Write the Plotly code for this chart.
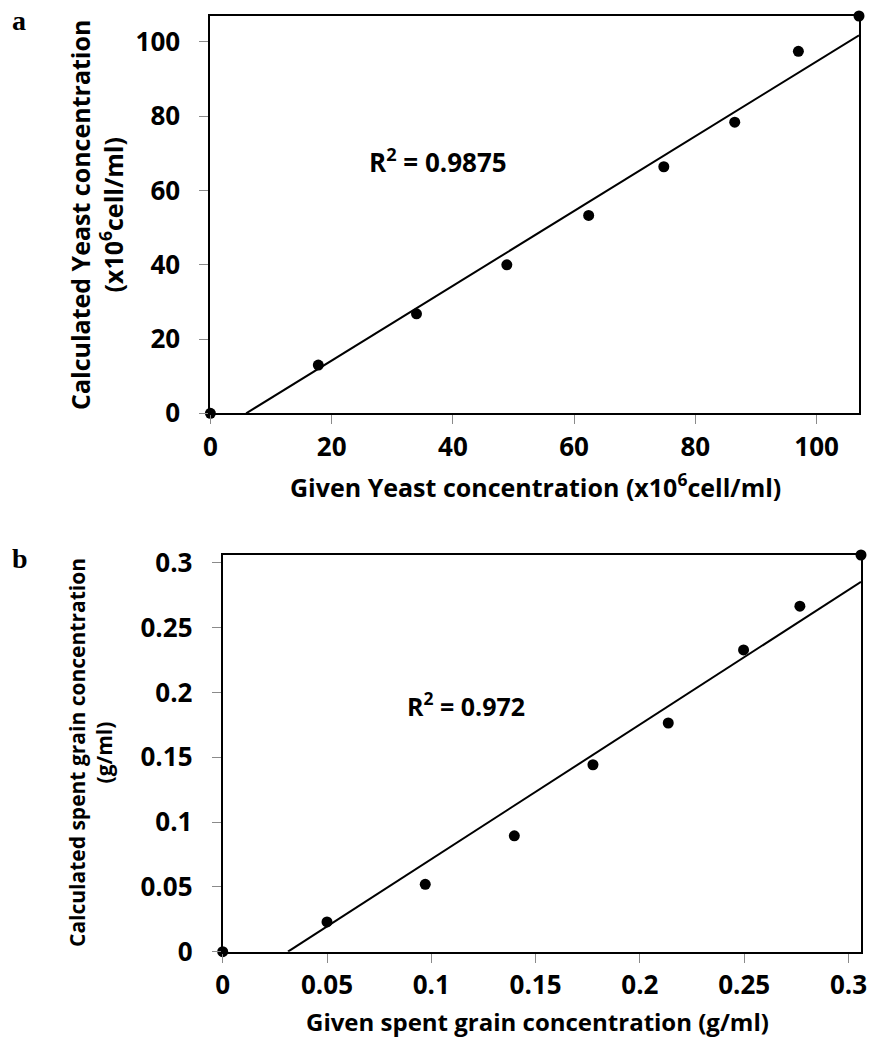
import plotly.graph_objects as go

# ---- data ----
yeast_given = [0, 17.8, 34.0, 48.9, 62.4, 74.8, 86.5, 97.0, 107.0]
yeast_calc = [0, 13.0, 26.8, 40.0, 53.3, 66.4, 78.4, 97.5, 107.0]
yeast_fit = [1.007, -5.94]          # slope, intercept of drawn trend line
yeast_r2 = "0.9875"
yeast_ticks = [0, 20, 40, 60, 80, 100]

grain_given = [0, 0.050, 0.0971, 0.1398, 0.1775, 0.2136, 0.2497, 0.2767, 0.306]
grain_calc = [0, 0.0230, 0.0520, 0.0894, 0.1442, 0.1764, 0.2328, 0.2665, 0.306]
grain_fit = [1.0386, -0.0325]
grain_r2 = "0.972"
grain_ticks = [0, 0.05, 0.1, 0.15, 0.2, 0.25, 0.3]
grain_ticktext = ["0", "0.05", "0.1", "0.15", "0.2", "0.25", "0.3"]

W, H = 871, 1057
FONT = "Open Sans"

def px(x):
    return x / W

def py(y):
    return 1 - y / H

fig = go.Figure()

def add_panel(xs, ys, fit, xmax, xa, ya):
    slope, icpt = fit
    x0 = -icpt / slope
    fig.add_trace(go.Scatter(x=[x0, xmax], y=[0, slope * xmax + icpt], mode="lines",
                             line=dict(color="black", width=2), xaxis=xa, yaxis=ya,
                             showlegend=False, hoverinfo="skip"))
    fig.add_trace(go.Scatter(x=xs, y=ys, mode="markers",
                             marker=dict(color="black", size=11), cliponaxis=False,
                             xaxis=xa, yaxis=ya, showlegend=False))

add_panel(yeast_given, yeast_calc, yeast_fit, 107.0, "x", "y")
add_panel(grain_given, grain_calc, grain_fit, 0.306, "x2", "y2")

axis_common = dict(showgrid=False, zeroline=False, showline=True, mirror=True,
                   linecolor="black", linewidth=2, ticks="outside", ticklen=9,
                   tickcolor="#8a8a8a", tickwidth=1, automargin=False,
                   tickfont=dict(family=FONT, size=26, color="black", weight="bold"))

fig.update_layout(
    template="none",
    width=W, height=H, margin=dict(l=0, r=0, t=0, b=0, pad=0),
    plot_bgcolor="white", paper_bgcolor="white", showlegend=False,
    xaxis=dict(domain=[px(210.4), px(859)], range=[0, 107], tickvals=yeast_ticks,
               anchor="y", ticklabelstandoff=0, **axis_common),
    yaxis=dict(domain=[py(413.3), py(16)], range=[0, 107], tickvals=yeast_ticks,
               anchor="x", ticklabelstandoff=14, **axis_common),
    xaxis2=dict(domain=[px(222.7), px(861)], range=[0, 0.306], tickvals=grain_ticks,
                ticktext=grain_ticktext, anchor="y2", ticklabelstandoff=0, **axis_common),
    yaxis2=dict(domain=[py(951.7), py(555)], range=[0, 0.306], tickvals=grain_ticks,
                ticktext=grain_ticktext, anchor="x2", ticklabelstandoff=14, **axis_common),
)

ann = []
def tf(size):
    return dict(family=FONT, size=size, color="black", weight="bold")

ann.append(dict(text="Calculated Yeast concentration<br>(x10<sup>6</sup>cell/ml)",
                x=px(96), y=py(215), xref="paper", yref="paper", textangle=-90,
                showarrow=False, font=tf(25), xanchor="center", yanchor="middle"))
ann.append(dict(text="Given Yeast concentration (x10<sup>6</sup>cell/ml)",
                x=px(535), y=py(485), xref="paper", yref="paper",
                showarrow=False, font=tf(25), xanchor="center", yanchor="middle"))
ann.append(dict(text="Calculated spent grain concentration<br>(g/ml)",
                x=px(90), y=py(753), xref="paper", yref="paper", textangle=-90,
                showarrow=False, font=tf(21), xanchor="center", yanchor="middle"))
ann.append(dict(text="Given spent grain concentration (g/ml)",
                x=px(537), y=py(1021), xref="paper", yref="paper",
                showarrow=False, font=tf(24), xanchor="center", yanchor="middle"))
ann.append(dict(text="R<sup>2</sup> = " + yeast_r2, x=37.6, y=68, xref="x", yref="y",
                showarrow=False, font=tf(26)))
ann.append(dict(text="R<sup>2</sup> = " + grain_r2, x=0.1166, y=0.1905, xref="x2", yref="y2",
                showarrow=False, font=tf(25)))
ann.append(dict(text="a", x=px(10), y=py(20), xref="paper", yref="paper", showarrow=False,
                xanchor="left", yanchor="middle",
                font=dict(family="Liberation Serif", size=28, color="black", weight="bold")))
ann.append(dict(text="b", x=px(10), y=py(558), xref="paper", yref="paper", showarrow=False,
                xanchor="left", yanchor="middle",
                font=dict(family="Liberation Serif", size=28, color="black", weight="bold")))
fig.update_layout(annotations=ann)

fig.write_html("out.html")
